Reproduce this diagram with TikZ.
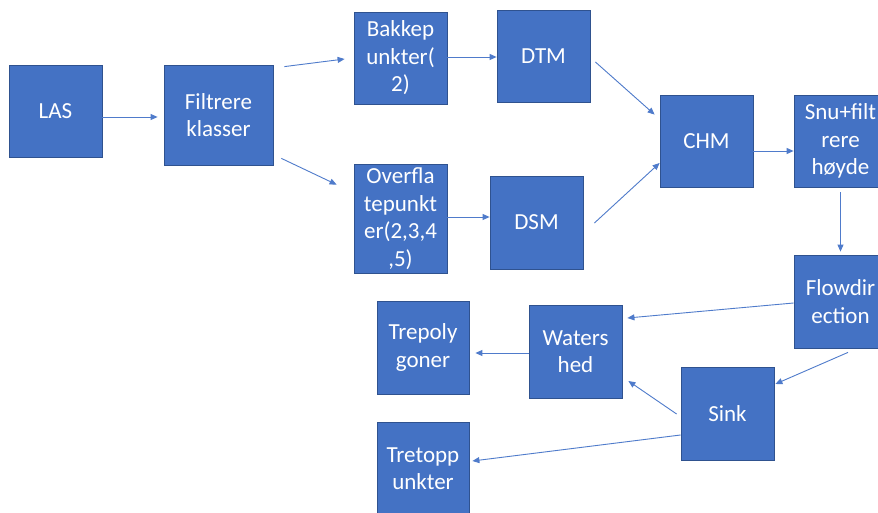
\documentclass[tikz,border=0pt]{standalone}
\usepackage{fontspec}
\setmainfont{Carlito}
\usetikzlibrary{arrows.meta,calc}
\definecolor{boxfill}{HTML}{4472C4}
\definecolor{boxline}{HTML}{2F528F}
\definecolor{arrcol}{HTML}{4F7BCB}
\begin{document}
\begin{tikzpicture}[x=1pt,y=-1pt,
  blk/.style={draw=boxline,line width=0.8pt,fill=boxfill,text=white,inner sep=0pt,
    align=center,minimum width=93pt,minimum height=92pt,
    font=\fontsize{23}{27.5}\selectfont},
  arr/.style={draw=arrcol,line width=0.9pt,-{Triangle[length=7pt,width=6pt]}}]
\useasboundingbox[fill=white] (0,0) rectangle (878,513);
\node[blk] (las) at (55.5,111) {LAS};
\node[blk,minimum width=109pt,minimum height=100pt] (filt) at (218.5,115) {Filtrere\\klasser};
\node[blk] (bakke) at (400.5,58) {Bakkep\\unkter(\\2)};
\node[blk,minimum height=109pt] (over) at (400.5,218.5) {Overfla\\tepunkt\\er(2,3,4\\,5)};
\node[blk] (dtm) at (543.5,56) {DTM};
\node[blk,minimum height=93pt] (dsm) at (536.5,222.5) {DSM};
\node[blk] (chm) at (706.5,141) {CHM};
\node[blk] (snu) at (840.5,141) {Snu+filt\\rere\\høyde};
\node[blk,minimum height=93pt] (flow) at (840.5,301.5) {Flowdir\\ection};
\node[blk,minimum height=93pt] (water) at (575.5,351.5) {Waters\\hed};
\node[blk,minimum width=92pt,minimum height=93pt] (poly) at (423,347.5) {Trepoly\\goner};
\node[blk,minimum height=93pt] (sink) at (727.5,413.5) {Sink};
\node[blk,minimum width=92pt,minimum height=93pt] (topp) at (423,468.5) {Tretopp\\unkter};

\draw[arr] ($(las.east)+(0,6)$) -- ($(filt.west)+(-6,2)$);
\draw[arr] ($(filt.north east)+(11,2)$) -- ($(bakke.west)+(-9,1)$);
\draw[arr] ($(filt.south east)+(8,-7)$) -- ($(over.north west)+(-17,21)$);
\draw[arr] ($(bakke.east)+(0,-1)$) -- ($(dtm.west)+(0,1)$);
\draw[arr] ($(over.east)+(0,-1.5)$) -- ($(dsm.west)+(0,-5.5)$);
\draw[arr] ($(dtm.east)+(5,6)$) -- ($(chm.north west)+(-5,20)$);
\draw[arr] ($(dsm.east)+(11,0.5)$) -- ($(chm.west)+(0,22)$);
\draw[arr] ($(chm.east)+(0,10)$) -- ($(snu.west)+(0,10)$);
\draw[arr] ($(snu.south)+(0,5)$) -- ($(flow.north)+(0,-3)$);
\draw[arr] ($(flow.west)+(0,1.5)$) -- ($(water.east)+(5,-33.5)$);
\draw[arr] ($(flow.south)+(7.5,4)$) -- ($(sink.east)+(1,-29.5)$);
\draw[arr] ($(water.west)+(0,1.5)$) -- ($(poly.east)+(6,5.5)$);
\draw[arr] ($(sink.west)+(-4,0.5)$) -- ($(water.east)+(6,29.5)$);
\draw[arr] ($(sink.west)+(0,21.5)$) -- ($(topp.east)+(3,-7.5)$);
\end{tikzpicture}
\end{document}
